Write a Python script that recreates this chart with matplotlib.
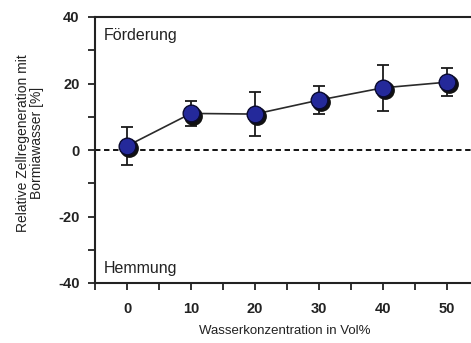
import numpy as np
import matplotlib.pyplot as plt
from matplotlib.ticker import MultipleLocator

# values
konz = [0, 10, 20, 30, 40, 50]
regeneration = [1.2, 11.0, 10.8, 15.0, 18.7, 20.4]
fehler = [5.8, 3.7, 6.7, 4.2, 7.0, 4.3]
x_ticks = [0, 10, 20, 30, 40, 50]
y_ticks = [-40, -20, 0, 20, 40]

plt.rcParams['font.family'] = ['Liberation Sans', 'DejaVu Sans']
plt.rcParams['axes.unicode_minus'] = False

fig = plt.figure(figsize=(4.71, 3.43), dpi=100)
ax = fig.add_axes([95 / 471, 1 - 283 / 343, 384 / 471, 266 / 343])

ax.axhline(0, color='black', linestyle=(0, (3, 2)), linewidth=1.3, zorder=1)
ax.errorbar(konz, regeneration, yerr=fehler, color='#2a2a2a', linewidth=1.2,
            ecolor='#1a1a1a', elinewidth=1.3, capsize=4, capthick=1.3, zorder=2)
# slight shadow below the markers
ax.plot(np.array(konz) + 0.3, np.array(regeneration) - 0.7, 'o', markersize=12.5,
        color='#111111', zorder=3)
ax.plot(konz, regeneration, 'o', markersize=12, markerfacecolor='#24299a',
        markeredgecolor='#0a0a30', markeredgewidth=1.0, zorder=4)

ax.set_xlim(-5, 55)
ax.set_ylim(-40, 40)
ax.set_xticks(x_ticks)
ax.set_yticks(y_ticks)
ax.xaxis.set_minor_locator(MultipleLocator(5))
ax.yaxis.set_minor_locator(MultipleLocator(10))
ax.tick_params(which='both', direction='out', length=5, width=1.3, color='#222222')
ax.tick_params(axis='y', labelsize=10.5, pad=6)
ax.tick_params(axis='x', labelsize=10.5, pad=9)
for lab in ax.get_xticklabels() + ax.get_yticklabels():
    lab.set_fontweight('bold')
    lab.set_color('#222222')

for side in ['left', 'bottom', 'top']:
    ax.spines[side].set_linewidth(1.5)
    ax.spines[side].set_color('#222222')
ax.spines['right'].set_visible(False)

ax.text(-3.7, 34.5, 'Förderung', fontsize=11.5, va='center', ha='left', color='#222222')
ax.text(-3.7, -35.5, 'Hemmung', fontsize=11.5, va='center', ha='left', color='#222222')

ax.set_xlabel('Wasserkonzentration in Vol%', fontsize=9.5, color='#222222')
ax.xaxis.set_label_coords((285 - 95) / 384, -(325 - 283) / 266)
ax.set_ylabel('Relative Zellregeneration mit\nBormiawasser [%]', fontsize=10,
              color='#222222', linespacing=1.0)
ax.yaxis.set_label_coords(-(95 - 44) / 384, (283 - 143) / 266)

fig.savefig('out.png', dpi=100)
